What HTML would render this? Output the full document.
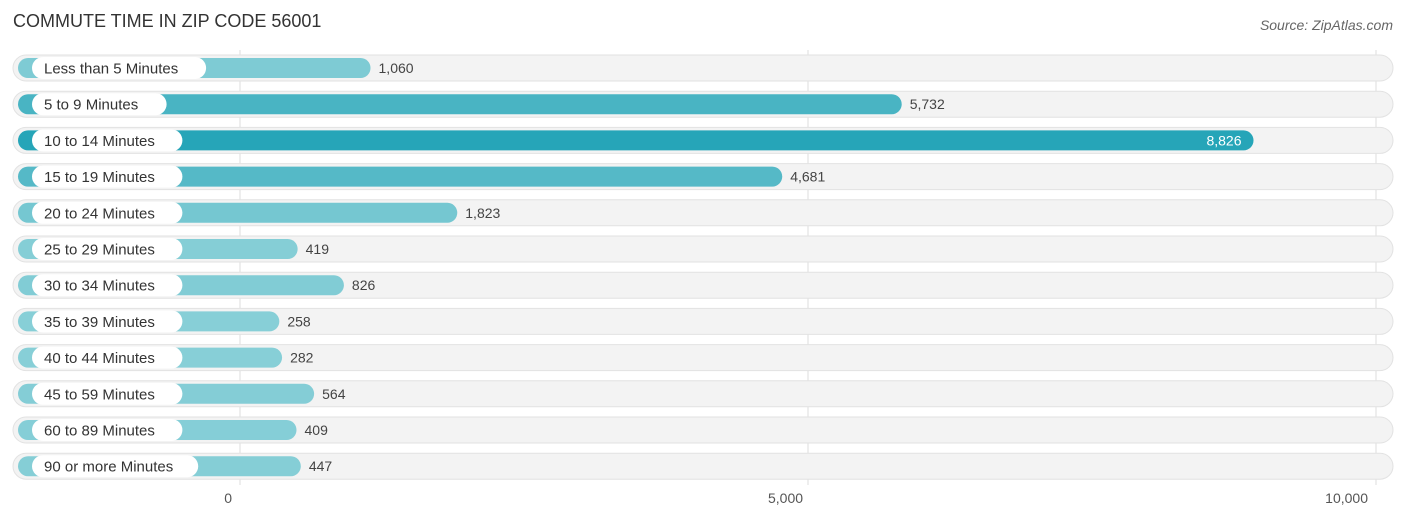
<!DOCTYPE html>
<html><head><meta charset="utf-8"><style>
body{margin:0;background:#fff;font-family:"Liberation Sans",sans-serif;}
</style></head><body>
<svg width="1406" height="522" xmlns="http://www.w3.org/2000/svg">
<text x="13" y="27" font-size="18" fill="#333">COMMUTE TIME IN ZIP CODE 56001</text>
<text x="1393" y="30" font-size="14" fill="#666" font-style="italic" text-anchor="end">Source: ZipAtlas.com</text>
<g id="grid"></g><g id="rows"></g><g id="axis"></g>
</svg>
<script>
const categories=["Less than 5 Minutes","5 to 9 Minutes","10 to 14 Minutes","15 to 19 Minutes","20 to 24 Minutes","25 to 29 Minutes","30 to 34 Minutes","35 to 39 Minutes","40 to 44 Minutes","45 to 59 Minutes","60 to 89 Minutes","90 or more Minutes"];
const values=[1060,5732,8826,4681,1823,419,826,258,282,564,409,447];
const tickValues=[0,5000,10000];
const tickLabels=["0","5,000","10,000"];
const NS="http://www.w3.org/2000/svg";
const gx=v=>240+v*0.1136;
const bx=v=>250+v*0.1137;
const ry=i=>68+i*36.2;
function mk(t,a,p){const e=document.createElementNS(NS,t);for(const k in a)e.setAttribute(k,a[k]);p.appendChild(e);return e;}
const grid=document.getElementById('grid'),rows=document.getElementById('rows'),axis=document.getElementById('axis');
const max=Math.max(...values);
function col(v){const t=v/max;const a=[138,208,216],b=[38,165,184];return `rgb(${a.map((c,i)=>Math.round(c+(b[i]-c)*t)).join(',')})`;}
categories.forEach((c,i)=>{
 const y=ry(i);
 const bg=mk('rect',{x:13,y:y-13,width:1380,height:26,rx:13,fill:'#f3f3f3',stroke:'#e2e2e2','stroke-width':1},rows);
 
});
tickValues.forEach((v,i)=>{
 const l=mk('line',{x1:gx(v),x2:gx(v),y1:50,y2:485,stroke:'#ddd','stroke-width':1},grid);
 
 const anchor=i==0?'end':(i==tickValues.length-1?'end':'middle');
 const tx=i==0?gx(v)-8:(i==tickValues.length-1?gx(v)-8:gx(v)-26);
 const t=mk('text',{x:i==1?gx(v)-40:tx,y:503,'font-size':14,fill:'#555','text-anchor':i==1?'start':anchor},axis);
 t.textContent=tickLabels[i];
 
});
categories.forEach((c,i)=>{
 const y=ry(i),v=values[i],w=bx(v)-18;
 const b=mk('rect',{x:18,y:y-10,width:w,height:20,rx:10,fill:col(v)},rows);
 
 const lw=c.length*7.9+24;
 const p=mk('rect',{x:32,y:y-11,width:lw,height:22,rx:11,fill:'#fff'},rows);
 
 const t=mk('text',{x:44,y:y+5.5,'font-size':15,fill:'#333'},rows);
 t.textContent=c;
 const inside=v===max;
 const vt=mk('text',{x:inside?bx(v)-12:bx(v)+8,y:y+5,'font-size':14,fill:inside?'#fff':'#444','text-anchor':inside?'end':'start'},rows);
 vt.textContent=v.toLocaleString('en-US');
 
});
</script>
</body></html>
